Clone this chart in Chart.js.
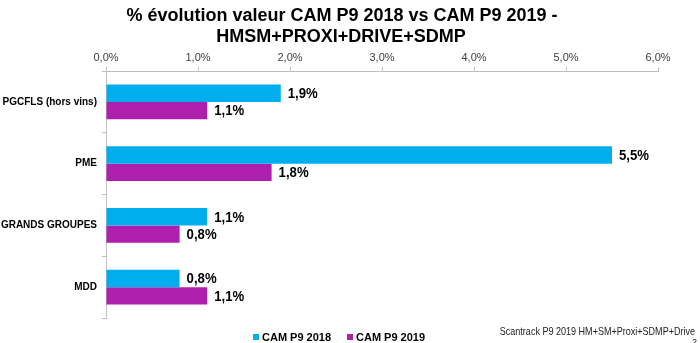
<!DOCTYPE html>
<html>
<head>
<meta charset="utf-8">
<script src="https://cdn.jsdelivr.net/npm/chart.js@4.4.1/dist/chart.umd.min.js"></script>
<style>
  html, body { margin: 0; padding: 0; background: #ffffff; }
  #wrap { width: 700px; height: 343px; position: relative; }
</style>
</head>
<body>
<div id="wrap"><canvas id="c" width="700" height="343"></canvas></div>
<script>
// Categories and values (% change in value)
const categories = ['PGCFLS (hors vins)', 'PME', 'GRANDS GROUPES', 'MDD'];
const seriesNames = ['CAM P9 2018', 'CAM P9 2019'];
const cam2018 = [1.9, 5.5, 1.1, 0.8];
const cam2019 = [1.1, 1.8, 0.8, 1.1];
const xTicks = [0, 1, 2, 3, 4, 5, 6];
const titleLines = ['% évolution valeur CAM P9 2018 vs CAM P9 2019 -', 'HMSM+PROXI+DRIVE+SDMP'];
const sourceNote = 'Scantrack P9 2019 HM+SM+Proxi+SDMP+Drive';
const pageNumber = '2';

const CYAN = '#00AEEF';
const PURPLE = '#AE1FAE';
const FONT = '"Liberation Sans", Arial, sans-serif';

const fmt = v => v.toFixed(1).replace('.', ',') + '%';

// Draw text squeezed horizontally (narrow look of the slide fonts)
function narrowText(ctx, text, x, y, sx) {
  ctx.save();
  ctx.translate(x, y);
  ctx.scale(sx, 1);
  ctx.fillText(text, 0, 0);
  ctx.restore();
}

// Value labels at the end of each bar
const valueLabels = {
  id: 'valueLabels',
  afterDatasetsDraw(chart) {
    const ctx = chart.ctx;
    ctx.save();
    ctx.font = 'bold 14px ' + FONT;
    ctx.fillStyle = '#000000';
    ctx.textAlign = 'left';
    ctx.textBaseline = 'middle';
    chart.data.datasets.forEach((ds, i) => {
      chart.getDatasetMeta(i).data.forEach((bar, j) => {
        narrowText(ctx, fmt(ds.data[j]), bar.x + 7, bar.y + 1, 0.94);
      });
    });
    ctx.restore();
  }
};

// Title, legend and source note
const decorations = {
  id: 'decorations',
  afterDraw(chart) {
    const ctx = chart.ctx;
    ctx.save();
    ctx.fillStyle = '#000000';
    ctx.textAlign = 'center';
    ctx.textBaseline = 'middle';
    ctx.font = 'bold 18px ' + FONT;
    ctx.fillText(titleLines[0], 342, 16);
    ctx.fillText(titleLines[1], 341, 37.5);

    // legend
    ctx.font = 'bold 11px ' + FONT;
    ctx.textAlign = 'left';
    const legendX = [253, 347];
    chart.data.datasets.forEach((ds, i) => {
      ctx.fillStyle = ds.backgroundColor;
      ctx.fillRect(legendX[i], 334, 6, 6);
      ctx.fillStyle = '#000000';
      ctx.fillText(ds.label, legendX[i] + 9, 337.5);
    });

    // source
    ctx.font = '10.5px ' + FONT;
    ctx.textAlign = 'right';
    ctx.fillStyle = '#222222';
    narrowText(ctx, sourceNote, 695, 332, 0.86);
    ctx.font = '9px ' + FONT;
    ctx.fillText(pageNumber, 697, 343);
    ctx.restore();
  }
};

new Chart(document.getElementById('c'), {
  type: 'bar',
  data: {
    labels: categories,
    datasets: [
      { label: seriesNames[0], data: cam2018, backgroundColor: CYAN },
      { label: seriesNames[1], data: cam2019, backgroundColor: PURPLE }
    ]
  },
  options: {
    indexAxis: 'y',
    responsive: false,
    animation: false,
    devicePixelRatio: 1,
    layout: { padding: { left: 0, right: 42, top: 51, bottom: 25 } },
    datasets: { bar: { categoryPercentage: 0.56, barPercentage: 1.0 } },
    plugins: {
      legend: { display: false },
      title: { display: false },
      tooltip: { enabled: false }
    },
    scales: {
      x: {
        position: 'top',
        min: 0,
        max: 6,
        afterBuildTicks: scale => { scale.ticks = xTicks.map(v => ({ value: v })); },
        afterFit: scale => { scale.height = 20; },
        ticks: {
          callback: v => fmt(v),
          font: { family: FONT, size: 11 },
          color: '#404040',
          padding: 2,
          maxRotation: 0
        },
        grid: { drawOnChartArea: false, drawTicks: true, tickLength: 4, color: '#BFBFBF' },
        border: { display: true, color: '#BFBFBF', width: 1 }
      },
      y: {
        afterFit: scale => { scale.width = 106; },
        ticks: {
          font: { family: FONT, size: 10, weight: 'bold' },
          color: '#000000',
          padding: 5
        },
        grid: { drawOnChartArea: false, drawTicks: true, tickLength: 4, color: '#BFBFBF', offset: true },
        border: { display: true, color: '#BFBFBF', width: 1 }
      }
    }
  },
  plugins: [valueLabels, decorations]
});
</script>
</body>
</html>
